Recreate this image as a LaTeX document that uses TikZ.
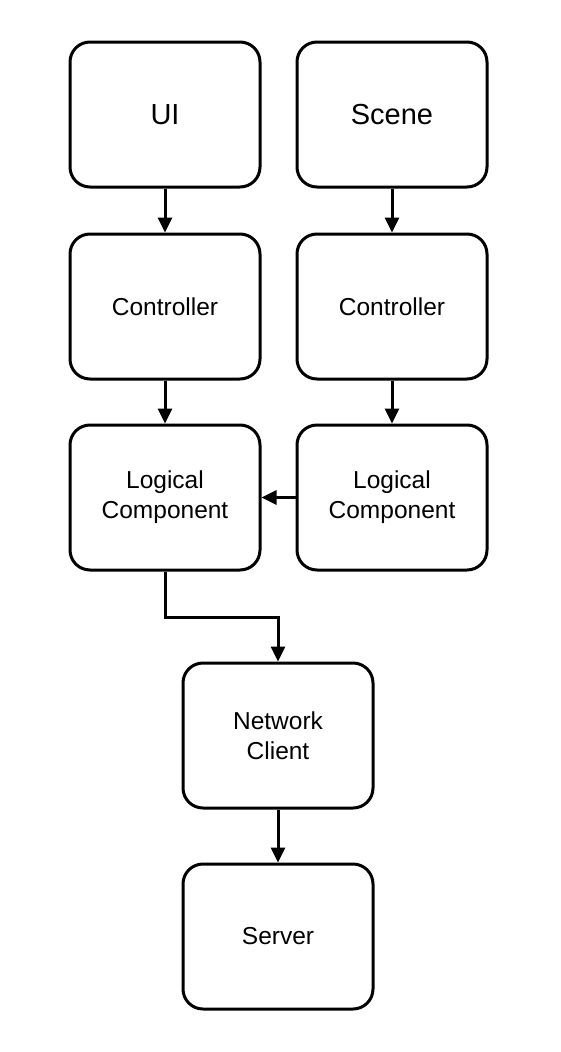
\documentclass[tikz,border=0pt]{standalone}
\usepackage{fontspec}
\setmainfont{Liberation Sans}
\usetikzlibrary{arrows.meta}
\begin{document}
\begin{tikzpicture}[x=1pt,y=-1pt,
  box/.style={draw, line width=3pt, rounded corners=20pt, minimum width=190pt, minimum height=145pt, align=center, inner sep=0pt, fill=white},
  big/.style={font=\fontsize{29}{34}\selectfont},
  small/.style={font=\fontsize{24.5}{30}\selectfont},
  conn/.style={line width=3pt, -{Triangle[length=15pt,width=14pt]}}]
\useasboundingbox (0,0) rectangle (561,1052);
\node[box,big] (ui) at (165,114.5) {UI};
\node[box,big] (scene) at (392,114.5) {Scene};
\node[box,small] (c1) at (165,306.5) {Controller};
\node[box,small] (c2) at (392,306.5) {Controller};
\node[box,small] (l1) at (165,497.5) {Logical\\Component};
\node[box,small] (l2) at (392,497.5) {Logical\\Component};
\node[box,small] (nc) at (278,735.5) {Network\\Client};
\node[box,small] (srv) at (278,936.5) {Server};
\draw[conn] (ui) -- (c1);
\draw[conn] (scene) -- (c2);
\draw[conn] (c1) -- (l1);
\draw[conn] (c2) -- (l2);
\draw[conn] (l2) -- (l1);
\draw[conn] (l1.south) |- (278,617) -- (nc.north);
\draw[conn] (nc) -- (srv);
\end{tikzpicture}
\end{document}
